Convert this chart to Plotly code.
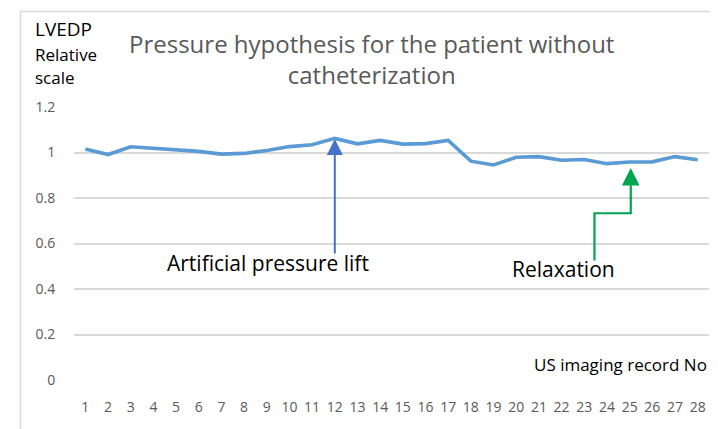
import plotly.graph_objects as go

# --- data ---
records = list(range(1, 29))
lvedp = [1.015, 0.991, 1.025, 1.018, 1.011, 1.005, 0.993, 0.996, 1.009, 1.026,
         1.034, 1.062, 1.038, 1.053, 1.037, 1.039, 1.053, 0.962, 0.945, 0.979,
         0.982, 0.966, 0.969, 0.951, 0.958, 0.959, 0.982, 0.968]
y_ticks = [0, 0.2, 0.4, 0.6, 0.8, 1, 1.2]
y_tick_labels = ["0", "0.2", "0.4", "0.6", "0.8", "1", "1.2"]

lift_record = 12
relax_record = 25

# plot area on screen (page has an 8px body margin)
PX0, PX1 = 73.6, 709.3
PY0, PY1 = 106.7, 380.0
W, H = 710, 421


def px(x):
    return (x - PX0) / (PX1 - PX0)


def py(y):
    return (PY1 - y) / (PY1 - PY0)


fig = go.Figure()
fig.add_trace(go.Scatter(
    x=records, y=lvedp, mode="lines",
    line=dict(color="#5B9BD5", width=3.6),
    showlegend=False, hoverinfo="x+y",
))

shapes = [
    # green elbow connector for "Relaxation"
    dict(type="path", xref="x", yref="y",
         path="M 23.45 0.525 L 23.45 0.733 L 25.05 0.733 L 25.05 0.80",
         line=dict(color="#00A550", width=2.2)),
    # chart border
    dict(type="rect", xref="paper", yref="paper",
         x0=px(20), x1=1.2, y0=-0.5, y1=py(11),
         line=dict(color="#D9D9D9", width=1.5), layer="below"),
]

annotations = [
    # blue arrow
    dict(x=lift_record, y=lvedp[lift_record - 1] - 0.003, ax=lift_record, ay=0.55,
         xref="x", yref="y", axref="x", ayref="y", text="", showarrow=True,
         arrowhead=2, arrowsize=1.6, arrowwidth=2, arrowcolor="#4472C4"),
    # green arrow head part
    dict(x=25.05, y=0.932, ax=25.05, ay=0.79,
         xref="x", yref="y", axref="x", ayref="y", text="", showarrow=True,
         arrowhead=2, arrowsize=1.6, arrowwidth=2.2, arrowcolor="#00A550"),
    dict(x=9.05, y=0.514, xref="x", yref="y", text="Artificial pressure lift",
         showarrow=False, font=dict(size=21, color="#000000")),
    dict(x=22.1, y=0.487, xref="x", yref="y", text="Relaxation",
         showarrow=False, font=dict(size=21, color="#000000")),
    dict(xref="paper", yref="paper", x=px(371), y=py(58.5),
         text="Pressure hypothesis for the patient without<br>catheterization",
         showarrow=False, xanchor="center", yanchor="middle",
         font=dict(size=24, color="#595959")),
    dict(xref="paper", yref="paper", x=px(33), y=py(29),
         text="LVEDP", showarrow=False, xanchor="left", yanchor="middle",
         font=dict(size=19, color="#000000")),
    dict(xref="paper", yref="paper", x=px(33), y=py(54),
         text="Relative", showarrow=False, xanchor="left", yanchor="middle",
         font=dict(size=17, color="#000000")),
    dict(xref="paper", yref="paper", x=px(33), y=py(77),
         text="scale", showarrow=False, xanchor="left", yanchor="middle",
         font=dict(size=17, color="#000000")),
    dict(xref="paper", yref="paper", x=px(709), y=py(364),
         text="US imaging record No", showarrow=False,
         xanchor="right", yanchor="middle",
         font=dict(size=17, color="#000000")),
]

fig.update_layout(
    width=W, height=H,
    margin=dict(l=PX0 - 8, r=W - (PX1 - 8), t=PY0 - 8, b=H - (PY1 - 8)),
    paper_bgcolor="white", plot_bgcolor="white",
    font=dict(family="Open Sans, Noto Sans, sans-serif"),
    annotations=annotations,
    shapes=shapes,
)

fig.update_xaxes(
    range=[0.5, 28.5], tickmode="array", tickvals=records,
    ticktext=[str(r) for r in records],
    ticks="outside", ticklen=14, tickcolor="rgba(0,0,0,0)",
    tickfont=dict(size=14, color="#595959"),
    showgrid=False, zeroline=False, showline=False, automargin=False,
)
fig.update_yaxes(
    range=[0, 1.2], tickmode="array", tickvals=y_ticks, ticktext=y_tick_labels,
    ticks="outside", ticklen=15, tickcolor="rgba(0,0,0,0)",
    tickfont=dict(size=14, color="#595959"),
    showgrid=True, gridcolor="#D9D9D9", gridwidth=1.5,
    zeroline=False, showline=False, automargin=False,
)

fig.write_html("out.html")
